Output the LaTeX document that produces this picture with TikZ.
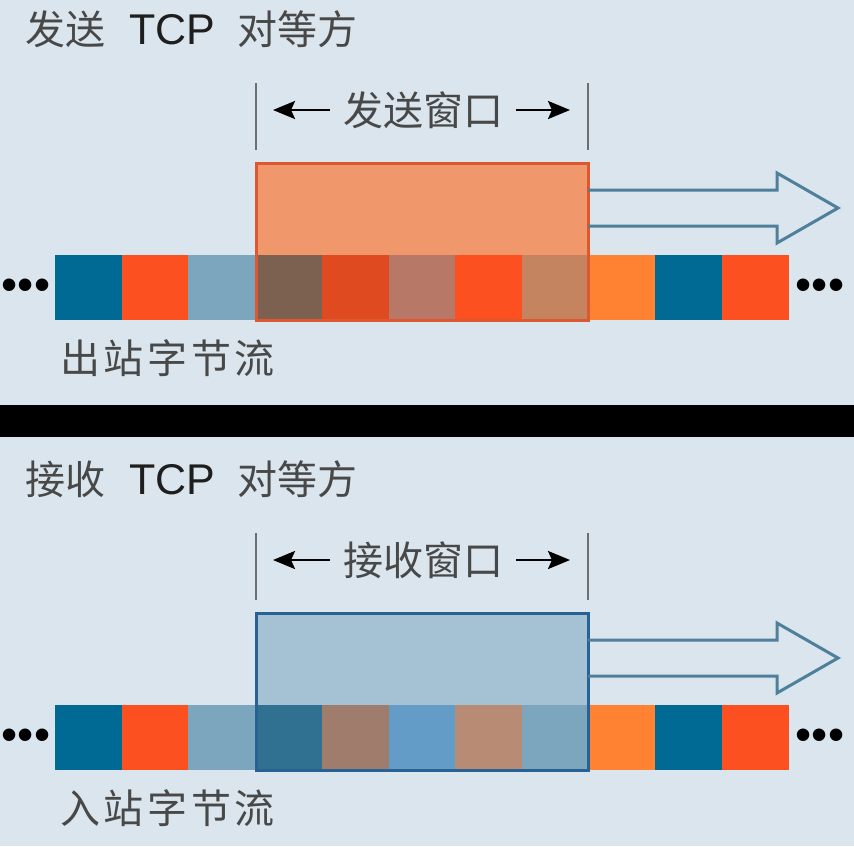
\documentclass[tikz,border=0pt]{standalone}
\usepackage{fontspec}
\setmainfont{Liberation Sans}
\newfontfamily\cjk{Noto Sans CJK SC}
\usepackage{tikz}
\usetikzlibrary{arrows.meta,positioning}

\definecolor{bgblue}{RGB}{218,229,237}
\definecolor{textgray}{RGB}{72,72,72}
\definecolor{tcpgray}{RGB}{30,30,30}
\definecolor{bracketgray}{RGB}{110,110,110}
\definecolor{arrowblue}{RGB}{78,128,155}
% plain cells
\definecolor{cblue}{RGB}{0,105,148}
\definecolor{cred}{RGB}{252,80,32}
\definecolor{clight}{RGB}{123,166,190}
\definecolor{corange}{RGB}{255,130,50}
% send window
\definecolor{sendfill}{RGB}{240,152,108}
\definecolor{senddraw}{RGB}{220,88,48}
\definecolor{sendA}{RGB}{124,96,80}
\definecolor{sendB}{RGB}{224,74,32}
\definecolor{sendC}{RGB}{184,120,104}
\definecolor{sendD}{RGB}{196,132,96}
% receive window
\definecolor{recvfill}{RGB}{164,194,212}
\definecolor{recvdraw}{RGB}{40,98,148}
\definecolor{recvA}{RGB}{48,112,144}
\definecolor{recvB}{RGB}{160,124,108}
\definecolor{recvC}{RGB}{100,156,200}
\definecolor{recvD}{RGB}{184,140,116}
\definecolor{recvE}{RGB}{124,166,190}

\tikzset{
  peer/.style={anchor=west, inner sep=0pt, text=textgray, font=\fontsize{20pt}{24pt}\selectfont},
  winlabel/.style={inner xsep=6.5pt, inner ysep=0pt, text=textgray, font=\cjk\fontsize{20pt}{24pt}\selectfont},
  winarrow/.style={line width=1.3pt, -{Stealth[length=11pt,width=9pt,inset=2pt]}},
  bracket/.style={line width=0.9pt, draw=bracketgray},
  slide/.style={line width=1.5pt, draw=arrowblue, line join=miter},
  stream/.style={anchor=west, inner sep=0pt, text=textgray, font=\cjk\fontsize{20pt}{24pt}\selectfont\addfontfeature{LetterSpace=9}},
  dots/.style={inner sep=0pt, text=black, font=\fontsize{23pt}{24pt}\selectfont}
}
\newcommand{\tcp}{{\color{tcpgray}\fontsize{21.5pt}{24pt}\selectfont TCP}}

\begin{document}
\begin{tikzpicture}[x=0.5pt,y=-0.5pt]
    \useasboundingbox (0,0) rectangle (854,846);
    \fill[bgblue] (0,0) rectangle (854,846);

    % Sender
    \node[peer] (sendpeer) at (25,29) {{\cjk 发送}\hspace{12pt}\tcp\hspace{11pt}{\cjk 对等方}};
    \draw[bracket] (256,83) -- (256,150);
    \draw[bracket] (588,83) -- (588,150);
    \node[winlabel] (sendlbl) at (423,110) {发送窗口};
    \coordinate (sendL) at (273,110);
    \coordinate (sendR) at (570,110);
    \draw[winarrow] (sendlbl) -- (sendL);
    \draw[winarrow] (sendlbl) -- (sendR);

    \fill[sendfill] (256,163) rectangle (588,320);
    \foreach \col [count=\i from 0] in {cblue,cred,clight,sendA,sendB,sendC,cred,sendD,corange,cblue,cred}
        \fill[\col] (55+\i*66.7,255) rectangle +(66.7,65);
    \draw[senddraw, line width=1.5pt] (256,163) rectangle (588,320);
    \draw[slide] (588,190) -- (777,190) -- (777,173) -- (838,208) -- (777,243) -- (777,226) -- (588,226);

    \node[dots] (sendldots) at (26,290) {•••};
    \node[dots] (sendrdots) at (820,290) {•••};
    \node[stream] (outstream) at (60,358) {出站字节流};

    % Divider
    \fill[black] (0,405) rectangle (854,437);

    % Receiver
    \node[peer] (recvpeer) at (25,479) {{\cjk 接收}\hspace{12pt}\tcp\hspace{11pt}{\cjk 对等方}};
    \draw[bracket] (256,533) -- (256,600);
    \draw[bracket] (588,533) -- (588,600);
    \node[winlabel] (recvlbl) at (423,560) {接收窗口};
    \coordinate (recvL) at (273,560);
    \coordinate (recvR) at (570,560);
    \draw[winarrow] (recvlbl) -- (recvL);
    \draw[winarrow] (recvlbl) -- (recvR);

    \fill[recvfill] (256,613) rectangle (588,770);
    \foreach \col [count=\i from 0] in {cblue,cred,clight,recvA,recvB,recvC,recvD,recvE,corange,cblue,cred}
        \fill[\col] (55+\i*66.7,705) rectangle +(66.7,65);
    \draw[recvdraw, line width=1.5pt] (256,613) rectangle (588,770);
    \draw[slide] (588,640) -- (777,640) -- (777,623) -- (838,658) -- (777,693) -- (777,676) -- (588,676);

    \node[dots] (recvldots) at (26,740) {•••};
    \node[dots] (recvrdots) at (820,740) {•••};
    \node[stream] (instream) at (60,808) {入站字节流};
\end{tikzpicture}
\end{document}
